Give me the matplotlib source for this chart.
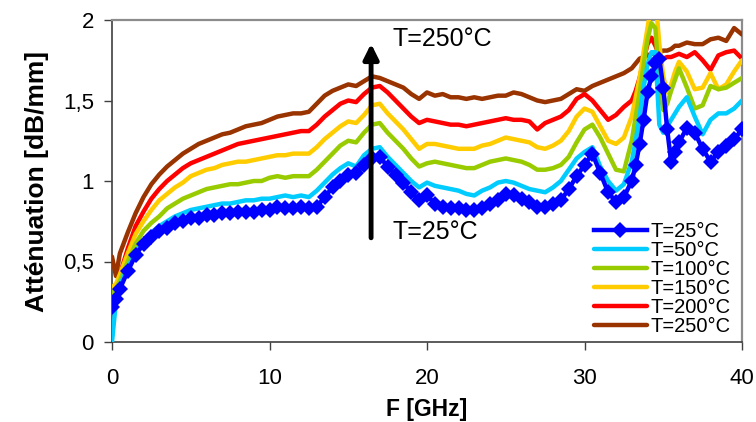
import numpy as np
import matplotlib
matplotlib.use("Agg")
import matplotlib.pyplot as plt
from matplotlib.ticker import FuncFormatter

plt.rcParams['font.family'] = ['Liberation Sans', 'DejaVu Sans']

# Frequency grid (GHz)
freq = ([0.0, 0.25] + [0.5 * i for i in range(1, 66)]
        + [33.0 + 0.25 * i for i in range(13)]
        + [36.5 + 0.5 * i for i in range(8)])

t25 = [0.22, 0.27, 0.33, 0.44, 0.54, 0.61, 0.65, 0.69, 0.71, 0.74, 0.75, 0.77, 0.77, 0.79, 0.79,
       0.80, 0.80, 0.81, 0.81, 0.81, 0.82, 0.82, 0.84, 0.83, 0.83, 0.84, 0.83, 0.84, 0.90, 0.96,
       1.00, 1.04, 1.05, 1.10, 1.14, 1.15, 1.09, 1.04, 0.99, 0.93, 0.88, 0.91, 0.86, 0.84, 0.83,
       0.83, 0.82, 0.82, 0.83, 0.86, 0.88, 0.92, 0.91, 0.89, 0.87, 0.84, 0.84, 0.86, 0.88, 0.95,
       1.03, 1.10, 1.17, 1.05, 0.93, 0.87, 0.90,
       1.00, 1.10, 1.23, 1.38, 1.55, 1.65, 1.73, 1.76, 1.58, 1.32, 1.12, 1.18, 1.24,
       1.33, 1.30, 1.20, 1.12, 1.18, 1.22, 1.26, 1.32]

t50 = [0.00, 0.25, 0.35, 0.46, 0.56, 0.63, 0.68, 0.72, 0.75, 0.78, 0.80, 0.82, 0.83, 0.84, 0.85,
       0.86, 0.86, 0.87, 0.88, 0.88, 0.89, 0.89, 0.90, 0.91, 0.90, 0.91, 0.90, 0.94, 0.99, 1.04,
       1.08, 1.11, 1.09, 1.16, 1.20, 1.21, 1.15, 1.10, 1.05, 1.00, 0.96, 0.99, 0.97, 0.96, 0.95,
       0.94, 0.92, 0.91, 0.94, 0.96, 0.99, 1.00, 0.99, 0.97, 0.95, 0.94, 0.93, 0.96, 1.00, 1.07,
       1.14, 1.18, 1.21, 1.09, 1.00, 0.94, 0.98,
       1.12, 1.25, 1.40, 1.58, 1.72, 1.80, 1.80, 1.35, 1.30, 1.34, 1.38, 1.42, 1.46,
       1.52, 1.40, 1.29, 1.38, 1.42, 1.42, 1.45, 1.50]

t100 = [0.30, 0.33, 0.38, 0.50, 0.61, 0.69, 0.74, 0.78, 0.83, 0.86, 0.89, 0.91, 0.93, 0.95, 0.96,
        0.97, 0.98, 0.98, 0.99, 1.00, 1.00, 1.02, 1.03, 1.02, 1.03, 1.03, 1.03, 1.07, 1.12, 1.17,
        1.22, 1.25, 1.24, 1.30, 1.35, 1.36, 1.30, 1.25, 1.20, 1.14, 1.09, 1.11, 1.12, 1.11, 1.10,
        1.09, 1.08, 1.08, 1.10, 1.12, 1.13, 1.14, 1.13, 1.12, 1.10, 1.07, 1.07, 1.08, 1.10, 1.15,
        1.24, 1.32, 1.35, 1.27, 1.17, 1.07, 1.06,
        1.25, 1.40, 1.55, 1.72, 1.88, 1.98, 1.95, 1.60, 1.44, 1.48, 1.56, 1.63, 1.70,
        1.58, 1.45, 1.47, 1.59, 1.57, 1.58, 1.61, 1.64]

t150 = [0.34, 0.36, 0.42, 0.55, 0.67, 0.75, 0.82, 0.88, 0.92, 0.96, 0.99, 1.03, 1.05, 1.07, 1.08,
        1.10, 1.11, 1.12, 1.12, 1.13, 1.14, 1.15, 1.16, 1.16, 1.17, 1.17, 1.17, 1.21, 1.26, 1.30,
        1.34, 1.37, 1.36, 1.41, 1.47, 1.48, 1.42, 1.37, 1.32, 1.26, 1.20, 1.23, 1.23, 1.22, 1.21,
        1.20, 1.20, 1.20, 1.22, 1.23, 1.25, 1.27, 1.26, 1.25, 1.24, 1.21, 1.20, 1.22, 1.25, 1.31,
        1.40, 1.45, 1.43, 1.34, 1.25, 1.23, 1.27,
        1.40, 1.52, 1.64, 1.80, 1.95, 2.10, 2.15, 1.85, 1.65, 1.55, 1.60, 1.68, 1.74,
        1.68, 1.57, 1.58, 1.67, 1.57, 1.60, 1.68, 1.75]

t200 = [0.28, 0.33, 0.42, 0.58, 0.72, 0.81, 0.89, 0.95, 1.00, 1.04, 1.08, 1.11, 1.13, 1.15, 1.17,
        1.19, 1.21, 1.23, 1.24, 1.25, 1.26, 1.27, 1.28, 1.29, 1.30, 1.31, 1.31, 1.35, 1.40, 1.44,
        1.48, 1.50, 1.49, 1.54, 1.58, 1.59, 1.55, 1.50, 1.45, 1.40, 1.36, 1.38, 1.37, 1.36, 1.35,
        1.35, 1.34, 1.35, 1.36, 1.37, 1.38, 1.39, 1.38, 1.38, 1.37, 1.32, 1.36, 1.38, 1.40, 1.44,
        1.51, 1.54, 1.50, 1.44, 1.38, 1.41, 1.46,
        1.50, 1.56, 1.64, 1.75, 1.85, 1.89, 1.84, 1.78, 1.76, 1.77, 1.77, 1.78, 1.79,
        1.77, 1.80, 1.75, 1.69, 1.78, 1.80, 1.81, 1.76]

t250 = [0.53, 0.41, 0.55, 0.68, 0.80, 0.90, 0.98, 1.04, 1.09, 1.13, 1.17, 1.20, 1.23, 1.25, 1.27,
        1.29, 1.30, 1.32, 1.34, 1.35, 1.36, 1.38, 1.40, 1.41, 1.42, 1.42, 1.43, 1.48, 1.53, 1.56,
        1.58, 1.60, 1.59, 1.62, 1.65, 1.64, 1.62, 1.60, 1.58, 1.54, 1.51, 1.55, 1.53, 1.54, 1.52,
        1.52, 1.51, 1.52, 1.51, 1.52, 1.53, 1.53, 1.55, 1.54, 1.52, 1.50, 1.49, 1.50, 1.51, 1.54,
        1.57, 1.56, 1.59, 1.61, 1.63, 1.65, 1.67,
        1.70, 1.73, 1.76, 1.77, 1.78, 1.79, 1.79, 1.80, 1.81, 1.81, 1.82, 1.84, 1.84,
        1.86, 1.85, 1.85, 1.88, 1.89, 1.87, 1.95, 1.91]

labels = ["T=25°C", "T=50°C", "T=100°C", "T=150°C", "T=200°C", "T=250°C"]
colors = ["#0000FF", "#00CCFF", "#99CC00", "#FFCC00", "#FF0000", "#993300"]
series = [t25, t50, t100, t150, t200, t250]

xticks = [0, 10, 20, 30, 40]
yticks = [0, 0.5, 1, 1.5, 2]

fig = plt.figure(figsize=(7.56, 4.22), dpi=100)
ax = fig.add_axes([112 / 756, 80 / 422, 630 / 756, 322 / 422])

handles = []
for i, (vals, lab, col) in enumerate(zip(series, labels, colors)):
    if i == 0:
        h, = ax.plot(freq, vals, color=col, lw=3.2, marker='D', markersize=8,
                     markeredgewidth=0, label=lab, zorder=10)
    else:
        h, = ax.plot(freq, vals, color=col, lw=3.2, label=lab, zorder=9 - i,
                     solid_capstyle='round', solid_joinstyle='round')
    handles.append(h)

ax.set_xlim(0, 40)
ax.set_ylim(0, 2)
ax.set_xticks(xticks)
ax.set_yticks(yticks)
ax.yaxis.set_major_formatter(FuncFormatter(lambda v, p: ('%g' % v).replace('.', ',')))
ax.tick_params(axis='both', direction='out', length=6, width=1, labelsize=16,
               color='#404040')
ax.tick_params(axis='x', pad=13)
ax.tick_params(axis='y', pad=7)
for s in ['left', 'bottom']:
    ax.spines[s].set_color('#404040')
    ax.spines[s].set_linewidth(1.2)
for s in ['top', 'right']:
    ax.spines[s].set_color('#8c8c8c')
    ax.spines[s].set_linewidth(1.6)

ax.set_xlabel("F [GHz]", fontsize=16.5, fontweight='bold', labelpad=6)
ax.set_ylabel("Atténuation [dB/mm]", fontsize=19, fontweight='bold', labelpad=10)

ax.annotate("", xy=(16.45, 1.87), xytext=(16.45, 0.63),
            arrowprops=dict(arrowstyle='-|>,head_length=0.9,head_width=0.45',
                            color='black', lw=3.5), zorder=20)
ax.text(17.8, 1.885, "T=250°C", fontsize=18, va='center', ha='left', zorder=20)
ax.text(17.8, 0.685, "T=25°C", fontsize=18, va='center', ha='left', zorder=20)

leg = ax.legend(handles=handles, loc='lower right', bbox_to_anchor=(0.982, 0.018),
                frameon=False, fontsize=14.5, handlelength=2.6, handletextpad=0.2,
                labelspacing=0.0, borderaxespad=0.0, borderpad=0.0)
leg.set_zorder(30)

fig.savefig("out.png", dpi=100)
